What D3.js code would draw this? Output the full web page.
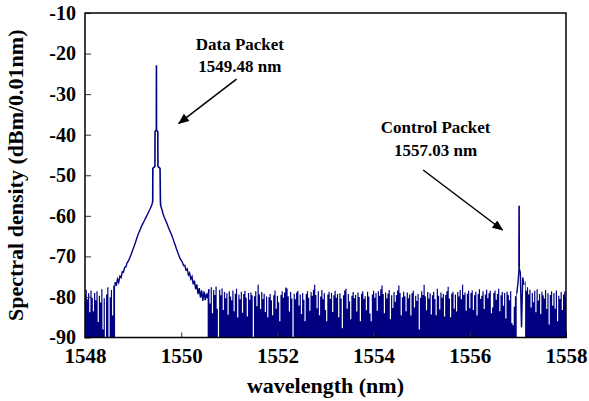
<!DOCTYPE html>
<html>
<head>
<meta charset="utf-8">
<script src="https://cdn.jsdelivr.net/npm/d3@7"></script>
<style>
  body { margin: 0; background: #fff; }
  text { font-family: "Liberation Serif", "Times New Roman", serif; font-weight: bold; fill: #000; }
</style>
</head>
<body>
<div id="chart"></div>
<script>
// OSA trace, sampled every 0.025 nm (upper edge of the trace)
var step = 0.025;
var noiseLeft = { start: 1548.0, values: [
  -79.5,-78.2,-80.6,-79.1,-83.8,-78.4,-80.2,-83.5,-79.0,-80.8,
  -78.6,-86.2,-79.7,-81.4,-78.1,-88.0,-80.3,-90,-79.4,-77.6,
  -90,-80.1,-78.3,-84.6,-77.2] };
var dataLobe = { start: 1548.625, values: [
  -76.4,-77.3,-75.6,-76.4,-74.9,-75.2,-73.8,-73.9,-72.7,-72.6,
  -71.6,-71.2,-70.5,-69.8,-69.0,-68.2,-67.4,-66.5,-65.6,-64.7,
  -64.0,-63.3,-62.6,-62.0,-61.4,-60.8,-60.2,-59.6,-59.0,-58.4,
  -57.7,-57.0,-56.5,-56.4,-56.3,-56.3,-56.4,-56.6,-57.6,-58.5,
  -59.6,-60.4,-61.1,-61.8,-62.6,-63.3,-64.0,-64.7,-65.5,-66.4,
  -67.2,-68.1,-68.9,-69.7,-70.5,-71.0,-71.5,-72.3,-72.2,-73.4,
  -73.1,-74.6,-74.1,-75.6,-75.0,-76.9,-76.0,-78.1,-76.9,-79.3,
  -77.8,-80.2,-78.4,-81.0,-78.6,-80.8,-79.1] };
var noiseMid = { start: 1550.55, values: [
  -80.4,-78.1,-81.6,-77.6,-84.0,-78.3,-79.5,-77.4,-82.9,-90,
  -78.2,-79.6,-77.9,-83.2,-78.8,-80.3,-79.1,-84.4,-78.6,-79.9,
  -80.8,-78.4,-83.5,-79.2,-78.0,-85.1,-79.4,-80.6,-78.7,-83.9,
  -79.3,-78.5,-80.2,-84.8,-79.0,-80.7,-78.9,-79.6,-90,-79.8,
  -78.6,-82.3,-77.0,-79.4,-83.0,-78.8,-80.5,-79.2,-83.7,-79.9,
  -85.0,-80.1,-79.3,-80.8,-84.5,-79.6,-78.4,-82.9,-79.7,-81.3,
  -86.0,-79.5,-78.6,-80.2,-78.9,-77.7,-77.9,-79.8,-83.6,-78.8,
  -80.4,-90,-79.2,-80.6,-78.9,-78.5,-82.1,-79.4,-84.2,-79.0,
  -80.7,-86.0,-79.3,-78.6,-80.2,-83.4,-78.8,-79.7,-78.2,-77.0,
  -79.5,-82.8,-78.6,-84.5,-79.9,-78.3,-80.6,-79.1,-83.2,-86.0,
  -79.4,-78.7,-80.5,-79.0,-83.7,-79.6,-78.5,-80.2,-79.3,-85.0,
  -79.1,-80.4,-87.7,-79.6,-78.4,-78.0,-82.9,-79.3,-81.1,-85.5,
  -79.7,-78.8,-80.3,-79.5,-83.6,-78.9,-80.0,-86.0,-79.2,-78.6,
  -80.5,-79.8,-83.3,-78.7,-79.9,-84.1,-86.0,-79.4,-78.5,-80.2,
  -79.0,-83.4,-78.6,-79.7,-78.1,-77.2,-79.3,-84.0,-78.9,-80.4,
  -79.2,-78.3,-85.5,-79.6,-82.7,-78.8,-81.2,-79.5,-78.4,-77.2,
  -79.0,-84.5,-80.1,-78.7,-79.8,-83.5,-78.9,-80.3,-79.4,-84.6,
  -79.1,-78.5,-82.6,-79.7,-81.0,-79.3,-88.0,-80.2,-78.6,-79.5,
  -77.0,-79.8,-83.3,-78.8,-80.4,-79.1,-84.3,-79.6,-78.7,-80.5,
  -84.5,-78.0,-79.7,-83.1,-78.9,-80.2,-79.3,-84.8,-79.5,-78.6,
  -77.5,-80.4,-85.0,-79.2,-78.7,-82.9,-79.4,-83.6,-78.8,-79.9,
  -78.3,-80.6,-77.0,-79.5,-78.9,-83.4,-79.2,-78.5,-82.8,-79.0,
  -78.4,-83.2,-79.6,-78.7,-84.6,-79.3,-78.1,-80.5,-79.7,-78.6,
  -83.0,-79.4,-78.2,-80.3,-79.1,-78.5,-84.0,-82.6,-79.0,-78.4,
  -80.7,-79.3,-78.0,-83.5,-79.6,-78.8,-82.2,-79.0,-85.3,-78.7,
  -79.5,-80.8,-78.6,-86.4,-87.0,-82.4,-79.8,-79.2] };
var ctrlBase = { start: 1557.0, values: [
  -76.8,-72.8,-74.0,-87.5,-75.2,-77.0,-76.2,-78.5,-77.6] };
var noiseRight = { start: 1557.225, values: [
  -79.4,-78.2,-82.6,-79.0,-81.3,-78.5,-83.8,-78.1,-80.9,-79.3,
  -84.2,-78.7,-79.6,-80.4,-78.3,-83.0,-79.1,-86.8,-79.5,-78.6,
  -82.2,-79.0,-82.9,-78.4,-86.0,-79.7,-80.5,-78.8,-83.2,-79.4,
  -78.6,-80.1] };

// narrow laser lines (wavelength, dBm)
var dataPeakWl = [1549.400,1549.408,1549.410,1549.454,1549.456,1549.483,1549.485,1549.487,1549.514,1549.516,1549.560,1549.568,1549.575];
var dataPeakDb = [-57.0,-56.3,-48.3,-47.8,-39.3,-38.8,-22.9,-38.8,-39.3,-47.8,-48.3,-56.5,-57.6];
var ctrlPeakWl = [1557.022,1557.025,1557.028];
var ctrlPeakDb = [-72.8,-57.5,-72.8];

// ranges where the trace stands clear of the noise floor (no fill below)
var lineOnly = [[1548.64, 1550.54], [1556.99, 1557.135]];
// ranges where the trace is drawn as a line (slightly wider than lineOnly)
var lineDrawn = [[1548.6, 1550.6], [1556.97, 1557.15]];
var stemGap = [1549.41, 1549.56];

var xTicks = [1548, 1550, 1552, 1554, 1556, 1558];
var yTicks = [-90, -80, -70, -60, -50, -40, -30, -20, -10];

var notes = [
  { lines: ["Data Packet", "1549.48 nm"], wl: 1551.22, db: -19.1, from: [1551.15, -26.3], to: [1549.95, -37.2] },
  { lines: ["Control Packet", "1557.03 nm"], wl: 1555.29, db: -39.6, from: [1555.03, -48.7], to: [1556.68, -63.5] }
];

var width = 589, height = 401;
var margin = { left: 85, right: 23, top: 13, bottom: 63.5 };
var navy = "#000080";
var serif = "'Liberation Serif', 'Times New Roman', serif";

var svg = d3.select("#chart").append("svg")
  .attr("width", width)
  .attr("height", height);

var x = d3.scaleLinear().domain([1548, 1558]).range([margin.left, width - margin.right]);
var y = d3.scaleLinear().domain([-90, -10]).range([height - margin.bottom, margin.top]);

var trace = [];
[noiseLeft, dataLobe, noiseMid, ctrlBase, noiseRight].forEach(function(seg) {
  seg.values.forEach(function(v, i) {
    trace.push({ wl: +(seg.start + i * step).toFixed(3), db: v });
  });
});

function inRange(wl, r) { return wl > r[0] && wl < r[1]; }
function clearOfFloor(d) { return lineOnly.some(function(r) { return inRange(d.wl, r); }); }
function asLine(d) { return lineDrawn.some(function(r) { return inRange(d.wl, r); }) && !inRange(d.wl, stemGap); }

svg.append("defs").append("clipPath").attr("id", "plot-clip")
  .append("rect")
  .attr("x", x(1548)).attr("y", y(-10))
  .attr("width", x(1558) - x(1548)).attr("height", y(-90) - y(-10));

var plot = svg.append("g").attr("clip-path", "url(#plot-clip)");

var area = d3.area()
  .defined(function(d) { return !clearOfFloor(d); })
  .curve(d3.curveStep)
  .x(function(d) { return x(d.wl); })
  .y0(y(-90))
  .y1(function(d) { return y(d.db); });

plot.append("path")
  .datum(trace)
  .attr("d", area)
  .attr("fill", navy);

var line = d3.line()
  .defined(asLine)
  .x(function(d) { return x(d.wl); })
  .y(function(d) { return y(d.db); });

plot.append("path")
  .datum(trace)
  .attr("d", line)
  .attr("fill", "none")
  .attr("stroke", navy)
  .attr("stroke-width", 1.4);

var peakLine = d3.line()
  .x(function(d) { return x(d[0]); })
  .y(function(d) { return y(d[1]); });

plot.append("path")
  .datum(d3.zip(dataPeakWl, dataPeakDb))
  .attr("d", peakLine)
  .attr("fill", "none")
  .attr("stroke", navy)
  .attr("stroke-width", 1.6);

plot.append("path")
  .datum(d3.zip(ctrlPeakWl, ctrlPeakDb))
  .attr("d", peakLine)
  .attr("fill", "none")
  .attr("stroke", navy)
  .attr("stroke-width", 1.6);

// axes, ticks inside
var xAxis = svg.append("g")
  .attr("transform", "translate(0," + y(-90) + ")")
  .call(d3.axisBottom(x).tickValues(xTicks).tickFormat(function(d) { return String(d); }).tickSize(-5).tickPadding(11));

var yAxis = svg.append("g")
  .attr("transform", "translate(" + x(1548) + ",0)")
  .call(d3.axisLeft(y).tickValues(yTicks).tickFormat(function(d) { return String(d); }).tickSize(-6).tickPadding(9));

[xAxis, yAxis].forEach(function(a) {
  a.attr("font-family", serif);
  a.select(".domain").remove();
  a.selectAll(".tick line").attr("stroke", "#333");
  a.selectAll("text").style("font-family", serif).style("font-weight", "bold");
});
xAxis.selectAll("text").style("font-size", "21px");
yAxis.selectAll("text").style("font-size", "20px");

svg.append("rect")
  .attr("x", x(1548)).attr("y", y(-10))
  .attr("width", x(1558) - x(1548)).attr("height", y(-90) - y(-10))
  .attr("fill", "none")
  .attr("stroke", "#000")
  .attr("stroke-width", 1.5);

svg.append("text")
  .attr("x", (x(1548) + x(1558)) / 2)
  .attr("y", 393)
  .attr("text-anchor", "middle")
  .style("font-family", serif)
  .style("font-size", "22px")
  .text("wavelength (nm)");

svg.append("text")
  .attr("transform", "translate(23," + (y(-10) + y(-90)) / 2 + ") rotate(-90)")
  .attr("text-anchor", "middle")
  .style("font-family", serif)
  .style("font-size", "22px")
  .text("Spectral density (dBm/0.01nm)");

// annotations
svg.append("defs").append("marker")
  .attr("id", "arrow")
  .attr("viewBox", "0 0 12 10")
  .attr("refX", 11).attr("refY", 5)
  .attr("markerWidth", 12).attr("markerHeight", 9)
  .attr("markerUnits", "userSpaceOnUse")
  .attr("orient", "auto")
  .append("path")
  .attr("d", "M0,0 L12,5 L0,10 Z")
  .attr("fill", "#000");

notes.forEach(function(n) {
  var t = svg.append("text")
    .attr("text-anchor", "middle")
    .style("font-family", serif)
    .style("font-size", "17px");
  n.lines.forEach(function(s, i) {
    t.append("tspan")
      .attr("x", x(n.wl))
      .attr("y", y(n.db) + i * 22.5)
      .text(s);
  });
  svg.append("line")
    .attr("x1", x(n.from[0])).attr("y1", y(n.from[1]))
    .attr("x2", x(n.to[0])).attr("y2", y(n.to[1]))
    .attr("stroke", "#000")
    .attr("stroke-width", 1.5)
    .attr("marker-end", "url(#arrow)");
});
</script>
</body>
</html>
